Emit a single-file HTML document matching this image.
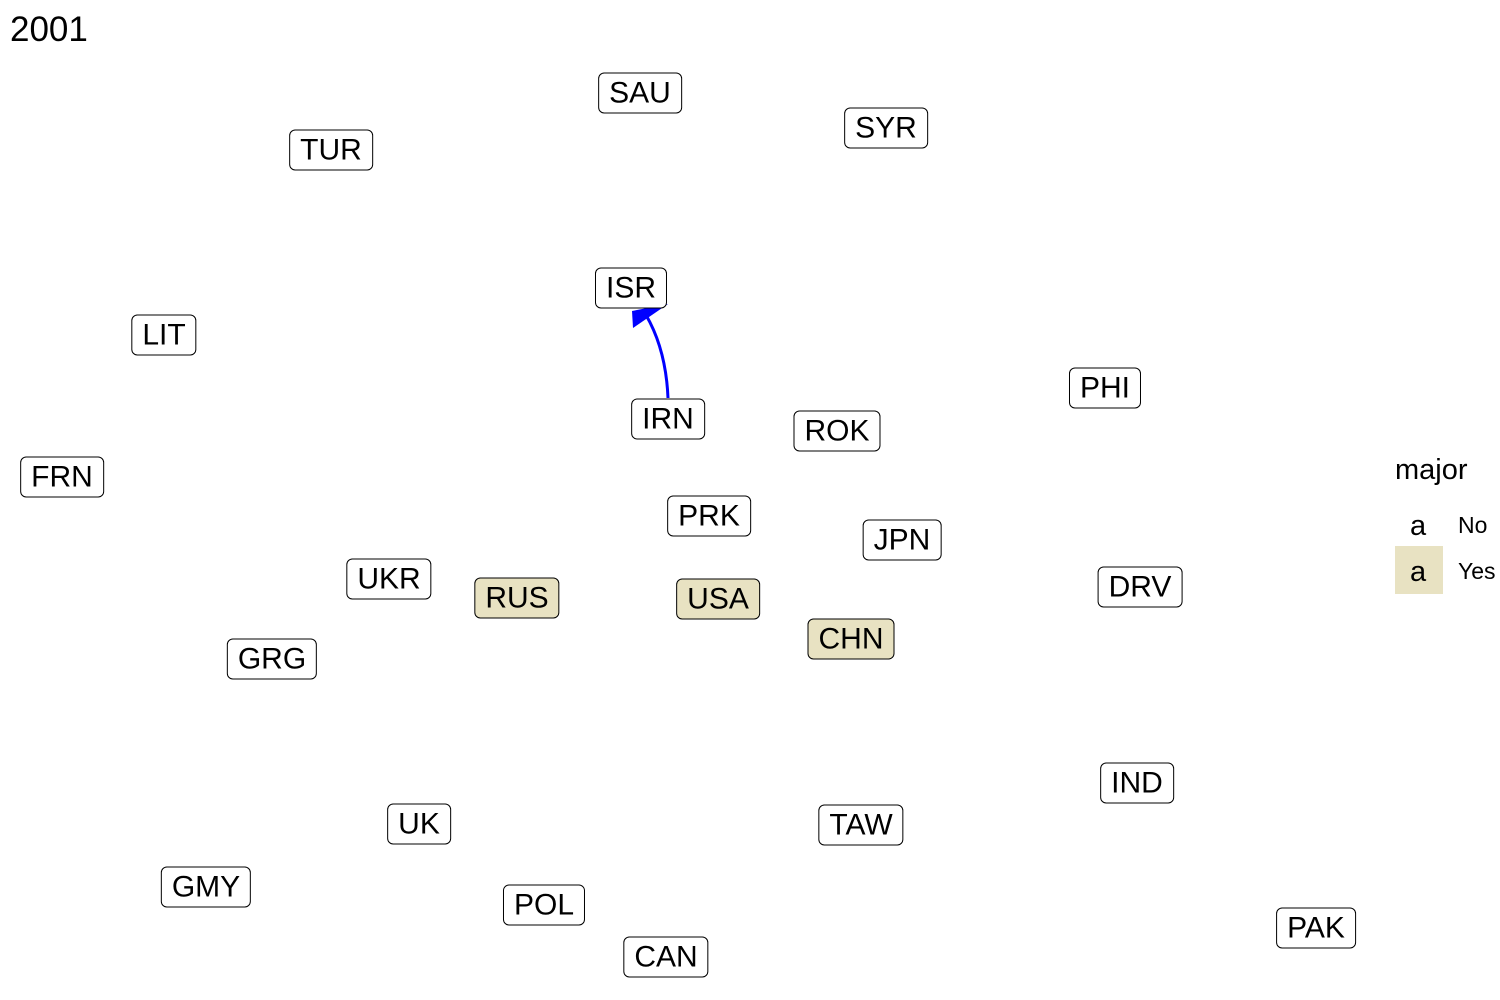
<!DOCTYPE html>
<html><head><meta charset="utf-8">
<style>
body{margin:0;background:#fff;width:1500px;height:1000px;overflow:hidden;position:relative;font-family:"Liberation Sans",sans-serif;}
.node{position:absolute;transform:translate(-50%,-50%);border:1.5px solid #000;border-radius:6px;background:#fff;font-size:30px;line-height:39px;padding:0 10px;white-space:nowrap;color:#000;}
.major{background:#e8e2c2;}
#title{position:absolute;left:10px;top:10px;font-size:35px;}
</style></head><body>
<div id="title">2001</div>
<svg id="edges" width="1500" height="1000" style="position:absolute;left:0;top:0"></svg>
<div style="position:absolute;left:1395px;top:454px;">
  <div style="font-size:29px;">major</div>
  <div style="position:absolute;top:50px;left:0;width:48px;height:48px;">
    <span style="position:absolute;left:15px;top:6px;font-size:29px;">a</span>
    <span style="position:absolute;left:63px;top:8px;font-size:23px;">No</span></div>
  <div style="position:absolute;top:92px;left:0;width:48px;height:48px;background:#e8e2c2;">
    <span style="position:absolute;left:15px;top:10px;font-size:29px;">a</span>
    <span style="position:absolute;left:63px;top:12px;font-size:23px;white-space:nowrap;">Yes</span></div>
</div>
<script>
const names=["SAU","SYR","TUR","ISR","LIT","PHI","IRN","ROK","FRN","PRK","JPN","UKR","RUS","USA","DRV","CHN","GRG","IND","UK","TAW","GMY","POL","PAK","CAN"];
const xs=[640,886,331,631,164,1105,668,837,62,709,902,389,517,718,1140,851,272,1137,419,861,206,544,1316,666];
const ys=[93,128,150,288,335,388,419,431,477,516,540,579,598,599,587,639,659,783,824,825,887,905,928,957];
const major=[0,0,0,0,0,0,0,0,0,0,0,0,1,1,0,1,0,0,0,0,0,0,0,0];
const edgeFrom=["IRN"];
const edgeTo=["ISR"];
names.forEach((n,i)=>{
  const d=document.createElement('div');
  d.className='node'+(major[i]?' major':'');
  d.style.left=xs[i]+'px';d.style.top=ys[i]+'px';
  d.textContent=n;
  
  
  document.body.appendChild(d);
});
const svg=document.getElementById('edges');
const NS='http://www.w3.org/2000/svg';
edgeFrom.forEach((f,k)=>{
  const a=names.indexOf(f),b=names.indexOf(edgeTo[k]);
  const x1=xs[a],y1=ys[a]-21,x2=xs[b]+5,y2=ys[b]+23;
  const cx=x1-2,cy=(y1+y2)/2-5;
  const p=document.createElementNS(NS,'path');
  p.setAttribute('d',`M${x1},${y1} Q${cx},${cy} ${x2+10},${y2+4}`);
  p.setAttribute('stroke','#0000ff');p.setAttribute('stroke-width','3');p.setAttribute('fill','none');
  
  
  svg.appendChild(p);
  const t=document.createElementNS(NS,'polygon');
  t.setAttribute('points',`${x2-3},${y2+17} ${x2-4},${y2} ${x2+32},${y2-7}`);
  t.setAttribute('fill','#0000ff');
  
  
  svg.appendChild(t);
});
</script>
</body></html>
